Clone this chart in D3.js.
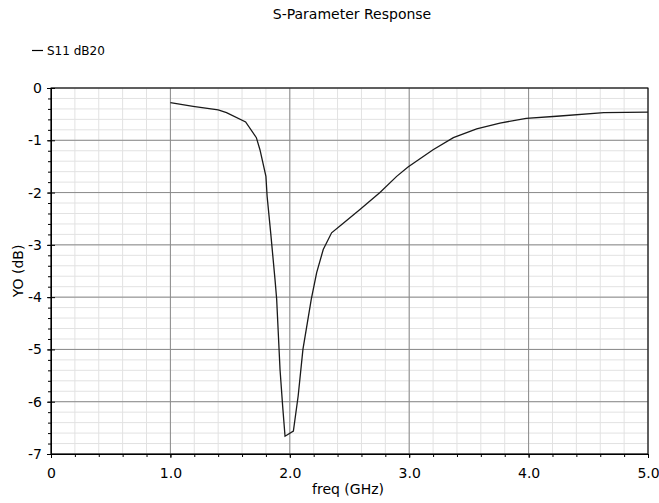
<!DOCTYPE html>
<html>
<head>
<meta charset="utf-8">
<script src="https://cdn.jsdelivr.net/npm/d3@7"></script>
<style>
  body { margin: 0; background: #fff; }
  text { font-family: "DejaVu Sans", sans-serif; fill: #000; }
  .axis path, .axis line { stroke: #000; }
  .curve { fill: none; stroke: #1a1a1a; stroke-width: 1.3px; }
</style>
</head>
<body>
<div id="chart"></div>
<script>
// S11 readings (GHz, dB)
var freq = [1.00, 1.19, 1.40, 1.47, 1.63, 1.72, 1.75, 1.80, 1.81, 1.84, 1.876, 1.89, 1.918, 1.94, 1.96,
            2.03, 2.07, 2.11, 2.18, 2.225, 2.28, 2.35, 2.43, 2.59, 2.755, 2.895, 2.99, 3.20, 3.37,
            3.565, 3.76, 3.98, 4.235, 4.63, 5.00];
var s11 = [-0.28, -0.35, -0.42, -0.47, -0.65, -0.95, -1.18, -1.69, -2.07, -2.77, -3.66, -4.04, -5.38, -6.08, -6.66,
           -6.56, -5.89, -5.00, -4.04, -3.53, -3.09, -2.77, -2.62, -2.32, -2.00, -1.69, -1.51, -1.18, -0.95,
           -0.78, -0.67, -0.58, -0.54, -0.47, -0.46];
var xTicks = [0, 1, 2, 3, 4, 5];
var yTicks = [0, -1, -2, -3, -4, -5, -6, -7];
var title = "S-Parameter Response";
var seriesName = "S11 dB20";
var xLabel = "freq (GHz)";
var yLabel = "YO (dB)";

var svg = d3.select("#chart").append("svg").attr("width", 659).attr("height", 503),
    margin = {top: 88, right: 11, bottom: 49, left: 51},
    width = +svg.attr("width") - margin.left - margin.right,
    height = +svg.attr("height") - margin.top - margin.bottom,
    g = svg.append("g").attr("transform", "translate(" + margin.left + "," + margin.top + ")");

var x = d3.scaleLinear().domain([0, 5]).range([0, width]);
var y = d3.scaleLinear().domain([-7, 0]).range([height, 0]);

var xMinor = d3.range(0, 5.001, 0.2);
var yMinor = d3.range(-7, 0.001, 0.2);

// minor grid
g.append("g").selectAll("line").data(xMinor).enter().append("line")
    .attr("x1", function (d) { return x(d); }).attr("x2", function (d) { return x(d); })
    .attr("y1", 0).attr("y2", height)
    .attr("stroke", "#e2e2e2");
g.append("g").selectAll("line").data(yMinor).enter().append("line")
    .attr("y1", function (d) { return y(d); }).attr("y2", function (d) { return y(d); })
    .attr("x1", 0).attr("x2", width)
    .attr("stroke", "#e2e2e2");

// major grid
g.append("g").selectAll("line").data(xTicks).enter().append("line")
    .attr("x1", function (d) { return x(d); }).attr("x2", function (d) { return x(d); })
    .attr("y1", 0).attr("y2", height)
    .attr("stroke", "#8a8a8a");
g.append("g").selectAll("line").data(yTicks).enter().append("line")
    .attr("y1", function (d) { return y(d); }).attr("y2", function (d) { return y(d); })
    .attr("x1", 0).attr("x2", width)
    .attr("stroke", "#8a8a8a");

// frame
g.append("rect").attr("width", width).attr("height", height)
    .attr("fill", "none").attr("stroke", "#000");

// minor ticks
g.append("g").attr("class", "axis")
    .attr("transform", "translate(0," + height + ")")
    .call(d3.axisBottom(x).tickValues(xMinor).tickSize(3).tickFormat(""))
    .select(".domain").remove();
g.append("g").attr("class", "axis")
    .call(d3.axisLeft(y).tickValues(yMinor).tickSize(3).tickFormat(""))
    .select(".domain").remove();

// major axes
var xAxis = g.append("g").attr("class", "axis")
    .attr("transform", "translate(0," + height + ")")
    .call(d3.axisBottom(x).tickValues(xTicks).tickSize(4).tickPadding(10)
        .tickFormat(function (d) { return d === 0 ? "0" : d.toFixed(1); }));
xAxis.selectAll("text").style("font-size", "14px");

var yAxis = g.append("g").attr("class", "axis")
    .call(d3.axisLeft(y).tickValues(yTicks).tickSize(4).tickPadding(5)
        .tickFormat(function (d) { return String(d); }));
yAxis.selectAll("text").style("font-size", "14px");

g.append("g").attr("class", "axis")
    .call(d3.axisRight(y).tickValues(yTicks).tickSize(4).tickFormat(""))
    .select(".domain").remove();

// curve
var pts = freq.map(function (f, i) { return {f: f, v: s11[i]}; });
var line = d3.line()
    .x(function (d) { return x(d.f); })
    .y(function (d) { return y(d.v); });
g.append("path").datum(pts).attr("class", "curve").attr("d", line);

// title, legend, labels
svg.append("text").attr("x", 352).attr("y", 19)
    .attr("text-anchor", "middle").style("font-size", "14px").text(title);

svg.append("line").attr("x1", 32).attr("x2", 43).attr("y1", 50.5).attr("y2", 50.5)
    .attr("stroke", "#000").attr("stroke-width", 1.2);
svg.append("text").attr("x", 47).attr("y", 55)
    .style("font-size", "12px").text(seriesName);

svg.append("text").attr("x", 348).attr("y", 494)
    .attr("text-anchor", "middle").style("font-size", "14px").text(xLabel);

svg.append("text").attr("transform", "translate(23," + (margin.top + height / 2) + ") rotate(-90)")
    .attr("text-anchor", "middle").style("font-size", "14px").text(yLabel);
</script>
</body>
</html>
